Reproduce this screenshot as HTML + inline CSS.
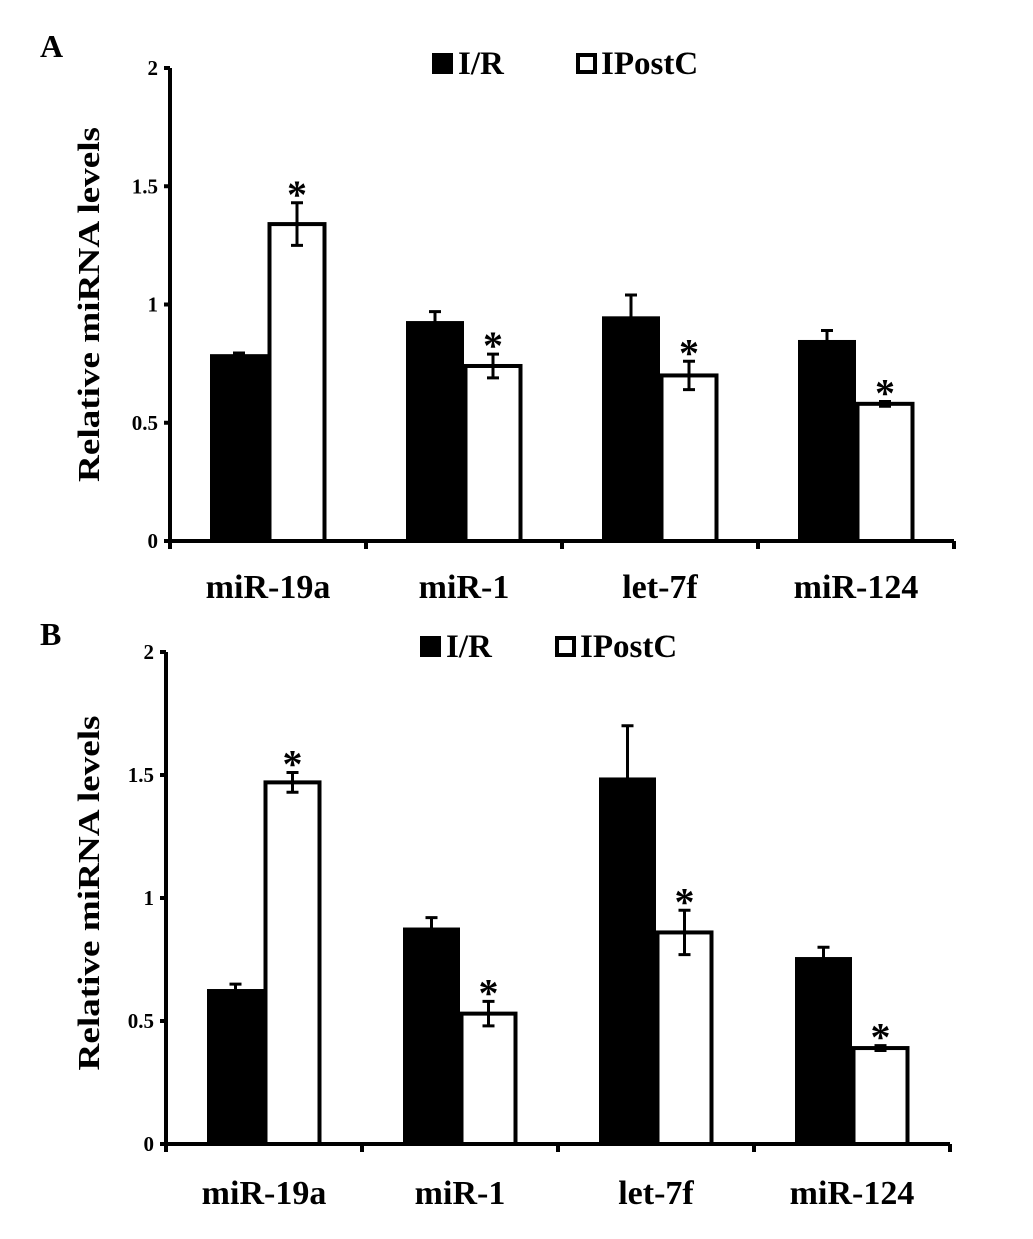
<!DOCTYPE html>
<html><head><meta charset="utf-8"><style>
body{margin:0;background:#fff}
svg text{font-family:"Liberation Serif",serif;font-weight:bold;fill:#000}
</style></head><body>
<svg id="c" width="1033" height="1234" xmlns="http://www.w3.org/2000/svg"></svg>
<script>
const categories=["miR-19a","miR-1","let-7f","miR-124"];
const ticks=[0,0.5,1,1.5,2];
const tickLabels=["0","0.5","1","1.5","2"];
const aIR=[0.79,0.93,0.95,0.85];
const aIRerr=[0.005,0.04,0.09,0.04];
const aIP=[1.34,0.74,0.70,0.58];
const aIPerr=[0.09,0.05,0.06,0.01];
const bIR=[0.63,0.88,1.49,0.76];
const bIRerr=[0.02,0.04,0.21,0.04];
const bIP=[1.47,0.53,0.86,0.39];
const bIPerr=[0.04,0.05,0.09,0.01];
const NS="http://www.w3.org/2000/svg";
const svg=document.getElementById('c');
function mk(t,a,txt,p){const e=document.createElementNS(NS,t);for(const k in a)e.setAttribute(k,a[k]);if(txt!==undefined)e.textContent=txt;(p||svg).appendChild(e);return e;}
function panel(id,cfg){
  const g=mk('g',{});
  
  
  const y=v=>cfg.y0-(v/2)*(cfg.y0-cfg.y2);
  const xb=i=>cfg.x0+cfg.band*(i+0.5);
  const bw=cfg.bw;
  const lt=mk('text',{x:40,y:cfg.letterY,'font-size':32},id,g);
  
  
  for(let i=0;i<categories.length;i++){
    const c=xb(i);
    const r1=mk('rect',{x:c-bw,y:y(cfg.ir[i]),width:bw,height:cfg.y0-y(cfg.ir[i]),fill:'#000'},undefined,g);
    
    
    const r2=mk('rect',{x:c+1.5,y:y(cfg.ip[i]),width:bw-3,height:cfg.y0-y(cfg.ip[i]),fill:'#fff',stroke:'#000','stroke-width':4},undefined,g);
    
    
    [[c-bw/2,cfg.ir[i],cfg.ire[i]],[c+bw/2,cfg.ip[i],cfg.ipe[i]]].forEach(([ex,v,e])=>{
      const eb=mk('path',{d:`M${ex},${y(v+e)}V${y(v-e)}M${ex-6},${y(v+e)}H${ex+6}M${ex-6},${y(v-e)}H${ex+6}`,stroke:'#000','stroke-width':3,fill:'none'},undefined,g);
      
      
    });
    const top=y(cfg.ip[i]+cfg.ipe[i]);
    const s=mk('text',{x:c+bw/2,y:top+5,'font-size':40,'text-anchor':'middle'},'*',g);
    
    
    const cl=mk('text',{x:c,y:cfg.catY,'font-size':34,'text-anchor':'middle'},categories[i],g);
    
    
  }
  const ax=mk('path',{d:`M${cfg.x0},${cfg.y2}V${cfg.y0}H${cfg.x0+cfg.band*4}`,stroke:'#000','stroke-width':4,fill:'none'},undefined,g);
  
  
  for(let i=0;i<=4;i++){
    const tx=cfg.x0+cfg.band*i;
    const t=mk('line',{x1:tx,x2:tx,y1:cfg.y0,y2:cfg.y0+8,stroke:'#000','stroke-width':4},undefined,g);
    
    
  }
  ticks.forEach((v,i)=>{
    const t=mk('line',{x1:cfg.x0-6,x2:cfg.x0,y1:y(v),y2:y(v),stroke:'#000','stroke-width':4},undefined,g);
    
    
    const l=mk('text',{x:cfg.x0-12,y:y(v)+7,'font-size':21,'text-anchor':'end'},tickLabels[i],g);
    
    
  });
  const yt=mk('text',{x:0,y:0,'font-size':31,'text-anchor':'middle',textLength:355,lengthAdjust:'spacingAndGlyphs',transform:`translate(99,${(cfg.y0+cfg.y2)/2+cfg.tOff}) rotate(-90)`},'Relative miRNA levels',g);
  
  
  const L=cfg.leg;
  const s1=mk('rect',{x:L.x1,y:L.y-21,width:21,height:21,fill:'#000'},undefined,g);
  
  
  const t1=mk('text',{x:L.x1+26,y:L.y,'font-size':33},'I/R',g);
  
  
  const s2=mk('rect',{x:L.x2+2,y:L.y-19,width:17,height:17,fill:'#fff',stroke:'#000','stroke-width':4},undefined,g);
  
  
  const t2=mk('text',{x:L.x2+25,y:L.y,'font-size':33},'IPostC',g);
  
  
}
panel('A',{x0:170,band:196,bw:58,y0:541,y2:68,ir:aIR,ire:aIRerr,ip:aIP,ipe:aIPerr,catY:598,letterY:57,tOff:0,leg:{x1:432,x2:576,y:74}});
panel('B',{x0:166,band:196,bw:57,y0:1144,y2:652,ir:bIR,ire:bIRerr,ip:bIP,ipe:bIPerr,catY:1204,letterY:645,tOff:-5,leg:{x1:420,x2:555,y:657}});
</script>
</body></html>
